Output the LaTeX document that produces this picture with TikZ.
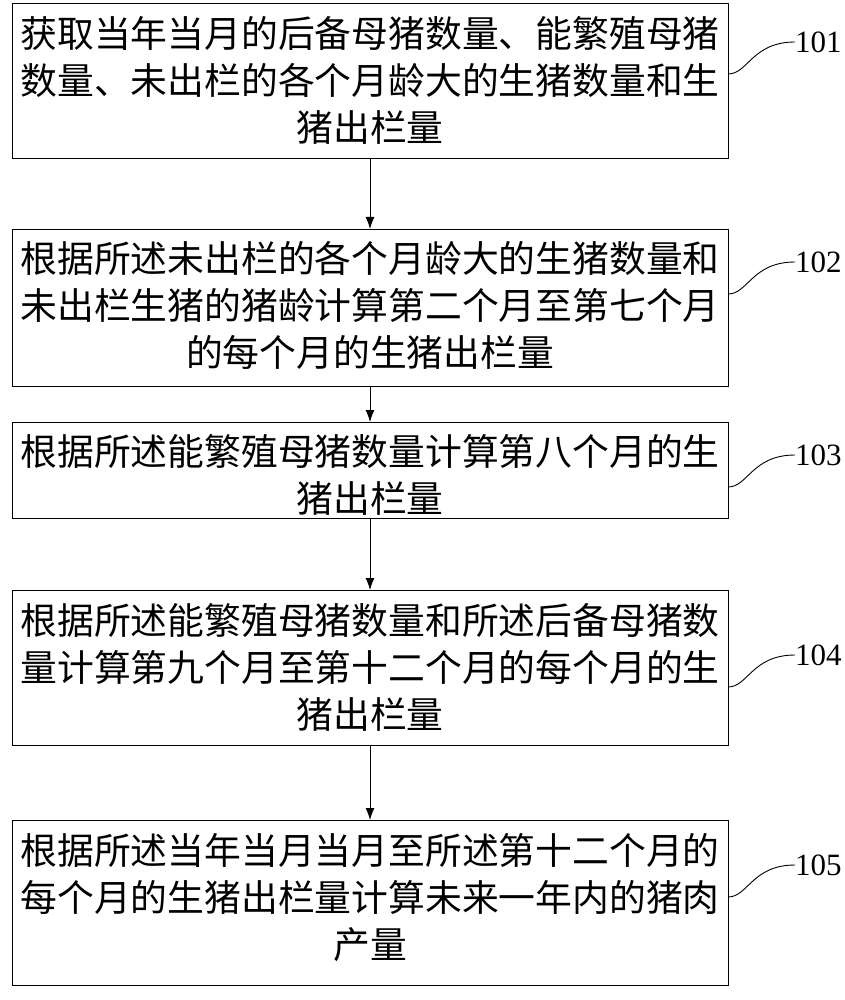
\documentclass[tikz,border=0pt]{standalone}
\usepackage{fontspec}
\usetikzlibrary{arrows.meta}
\newfontfamily\cjk{Noto Sans CJK SC}
\setmainfont{Liberation Serif}
\begin{document}
\begin{tikzpicture}[x=1pt,y=-1pt,
 txt/.style={anchor=north,align=center,text width=702pt,font=\cjk\fontsize{36.8}{47}\selectfont,inner sep=0pt},
 lab/.style={font=\fontsize{31}{31}\selectfont,anchor=west,inner sep=0pt},
 conn/.style={line width=0.9pt},
 arr/.style={-{Latex[length=12pt,width=9pt]},line width=0.9pt}]
\useasboundingbox (0,0) rectangle (844,1000);
\draw[line width=0.9pt] (12,3) rectangle (728,158);
\draw[line width=0.9pt] (12,229) rectangle (728,386);
\draw[line width=0.9pt] (12,422) rectangle (728,518);
\draw[line width=0.9pt] (12,590) rectangle (728,745);
\draw[line width=0.9pt] (12,820) rectangle (728,985);
\node[txt] (t1) at (370,16) {获取当年当月的后备母猪数量、能繁殖母猪\\数量、未出栏的各个月龄大的生猪数量和生\\猪出栏量};
\node[txt] (t2) at (370,241) {根据所述未出栏的各个月龄大的生猪数量和\\未出栏生猪的猪龄计算第二个月至第七个月\\的每个月的生猪出栏量};
\node[txt] (t3) at (370,434) {根据所述能繁殖母猪数量计算第八个月的生\\猪出栏量};
\node[txt] (t4) at (370,603) {根据所述能繁殖母猪数量和所述后备母猪数\\量计算第九个月至第十二个月的每个月的生\\猪出栏量};
\node[txt] (t5) at (370,833) {根据所述当年当月当月至所述第十二个月的\\每个月的生猪出栏量计算未来一年内的猪肉\\产量};
\coordinate (a1) at (370,158); \coordinate (b1) at (370,229);
\coordinate (a2) at (370,386); \coordinate (b2) at (370,422);
\coordinate (a3) at (370,518); \coordinate (b3) at (370,590);
\coordinate (a4) at (370,745); \coordinate (b4) at (370,820);
\draw[arr] (a1)--(b1); \draw[arr] (a2)--(b2); \draw[arr] (a3)--(b3); \draw[arr] (a4)--(b4);
\foreach \n/\y in {101/42,102/262,103/455,104/655,105/865}{
 \node[lab] (l\n) at (795,\y) {\n};
 \coordinate (s\n) at (728,\y+32);
 \draw[conn] (s\n) .. controls (748,\y+32) and (752,\y) .. (l\n.west);
}
\end{tikzpicture}
\end{document}
